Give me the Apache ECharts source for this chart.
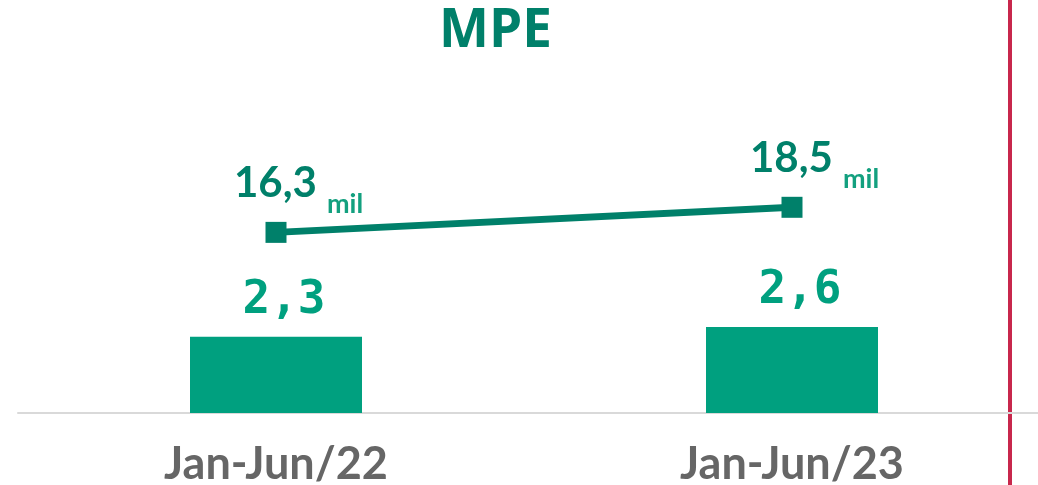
<!DOCTYPE html>
<html>
<head>
<meta charset="utf-8">
<title>MPE</title>
<script src="https://cdn.jsdelivr.net/npm/echarts@6/dist/echarts.min.js"></script>
<style>
  html, body { margin: 0; padding: 0; background: #fff; }
  #chart { width: 1038px; height: 485px; }
</style>
</head>
<body>
<div id="chart"></div>
<script>
// dados do gráfico
const categories = ['Jan-Jun/22', 'Jan-Jun/23']
const barValues = [2.3, 2.6]
const lineValues = [16.3, 18.5]
const lineUnit = 'mil'

const fmt = v => String(v).replace('.', ',')

const chart = echarts.init(document.getElementById('chart'))

const option = {
  animation: false,
  title: {
    text: 'MPE',
    left: 434,
    top: 0,
    textStyle: {
      color: '#00806A',
      fontSize: 53,
      fontWeight: 'bold',
      fontFamily: 'Open Sans'
    }
  },
  grid: { left: 18, width: 1032, top: 62, bottom: 72, outerBoundsMode: 'none' },
  xAxis: {
    type: 'category',
    data: categories,
    axisLine: { lineStyle: { color: '#D9D9D9', width: 2 } },
    axisTick: { show: false },
    axisLabel: {
      color: '#666666',
      fontSize: 45,
      fontWeight: 'bold',
      fontFamily: 'Lato',
      margin: 29
    }
  },
  yAxis: [
    { type: 'value', min: 0, max: 10.6, show: false, splitLine: { show: false } },
    { type: 'value', min: 0.45, max: 31.25, show: false, splitLine: { show: false } }
  ],
  series: [
    {
      type: 'bar',
      data: barValues,
      barWidth: 172,
      itemStyle: { color: '#00A07F' },
      label: {
        show: true,
        position: 'top',
        distance: 13,
        offset: [8, 0],
        formatter: p => fmt(p.value),
        color: '#00A07F',
        fontSize: 46,
        fontWeight: 'bold',
        fontFamily: 'DejaVu Sans Mono'
      }
    },
    {
      type: 'line',
      yAxisIndex: 1,
      data: lineValues,
      symbol: 'rect',
      symbolSize: 21,
      lineStyle: { color: '#00806A', width: 7 },
      itemStyle: { color: '#00806A' },
      label: {
        show: true,
        position: 'top',
        align: 'left',
        distance: 4,
        offset: [-42, 0],
        formatter: p => '{a|' + fmt(p.value) + '}{b|' + lineUnit + '}',
        rich: {
          a: {
            color: '#00806A',
            fontSize: 42,
            fontWeight: 'bold',
            fontFamily: 'Lato',
            verticalAlign: 'bottom',
            padding: [0, 0, 13, 0]
          },
          b: {
            color: '#13A07F',
            fontSize: 27,
            fontWeight: 'bold',
            fontFamily: 'Lato',
            verticalAlign: 'bottom',
            padding: [0, 0, 0, 10]
          }
        }
      }
    }
  ],
  graphic: [
    {
      type: 'line',
      shape: { x1: 1010, y1: 0, x2: 1010, y2: 485 },
      style: { stroke: '#C8274C', lineWidth: 4 }
    }
  ]
}

chart.setOption(option)
</script>
</body>
</html>
